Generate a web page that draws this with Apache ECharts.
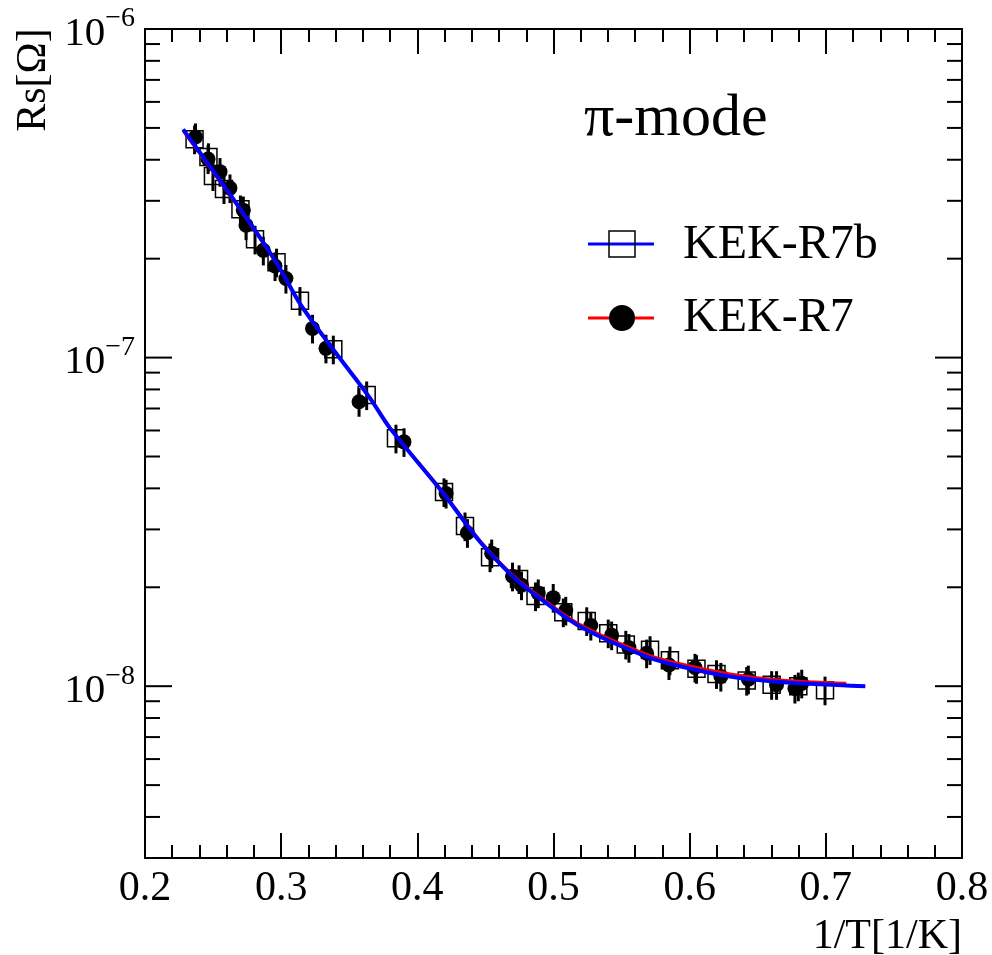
<!DOCTYPE html>
<html><head><meta charset="utf-8">
<script src="https://cdn.jsdelivr.net/npm/echarts@6/dist/echarts.min.js"></script>
<style>html,body{margin:0;padding:0;background:#fff}#c{width:992px;height:955px}</style>
</head><body><div id="c"></div>
<script>
// ---- data ----
const r7bX = [0.2364,0.2466,0.2499,0.2580,0.2701,0.2808,0.2966,0.3138,0.3383,0.3628,0.3843,0.4196,0.4350,0.4534,0.4747,0.4868,0.5072,0.5244,0.5402,0.5531,0.5709,0.5855,0.6050,0.6197,0.6419,0.6602,0.6798,0.6994];
const r7bY = [4.62e-7,4.08e-7,3.57e-7,3.26e-7,2.83e-7,2.29e-7,1.95e-7,1.49e-7,1.06e-7,7.69e-8,5.68e-8,3.90e-8,3.07e-8,2.47e-8,2.12e-8,1.88e-8,1.68e-8,1.58e-8,1.45e-8,1.34e-8,1.29e-8,1.20e-8,1.13e-8,1.09e-8,1.04e-8,1.01e-8,1.00e-8,9.72e-9];
const r7X = [0.2371,0.2463,0.2551,0.2624,0.2722,0.2742,0.2869,0.2955,0.3035,0.3230,0.3329,0.3572,0.3902,0.4211,0.4368,0.4546,0.4699,0.4765,0.4888,0.4998,0.5090,0.5274,0.5427,0.5554,0.5684,0.5848,0.6039,0.6229,0.6431,0.6638,0.6773,0.6823];
const r7Y = [4.69e-7,4.02e-7,3.68e-7,3.28e-7,2.81e-7,2.53e-7,2.12e-7,1.90e-7,1.74e-7,1.227e-7,1.067e-7,7.34e-8,5.54e-8,3.86e-8,2.93e-8,2.54e-8,2.16e-8,2.03e-8,1.92e-8,1.86e-8,1.70e-8,1.53e-8,1.43e-8,1.31e-8,1.26e-8,1.16e-8,1.14e-8,1.07e-8,1.05e-8,1.01e-8,9.84e-9,1.02e-8];
const errFrac = 0.10; // relative vertical error bar half-size

const fitBlueX = [0.2280,0.2673,0.2967,0.3138,0.3359,0.3652,0.3799,0.4191,0.4460,0.4705,0.4901,0.5195,0.5684,0.5929,0.6296,0.6663,0.7290];
const fitBlueY = [4.95e-7,2.94e-7,1.94e-7,1.46e-7,1.09e-7,7.53e-8,6.10e-8,3.86e-8,2.75e-8,2.15e-8,1.85e-8,1.52e-8,1.23e-8,1.15e-8,1.07e-8,1.03e-8,1.00e-8];
const fitRedX  = [0.2280,0.2673,0.2967,0.3138,0.3359,0.3652,0.3799,0.4191,0.4460,0.4705,0.4901,0.5195,0.5684,0.5929,0.6296,0.6663,0.7150];
const fitRedY  = [4.90e-7,2.92e-7,1.93e-7,1.46e-7,1.09e-7,7.55e-8,6.12e-8,3.88e-8,2.77e-8,2.17e-8,1.87e-8,1.54e-8,1.25e-8,1.17e-8,1.09e-8,1.045e-8,1.02e-8];

const xTickLabels = ['0.2','0.3','0.4','0.5','0.6','0.7','0.8'];
const yMajorTicks = [1e-8,1e-7,1e-6];
const yMinorTicks = [4e-9,5e-9,6e-9,7e-9,8e-9,9e-9,2e-8,3e-8,4e-8,5e-8,6e-8,7e-8,8e-8,9e-8,2e-7,3e-7,4e-7,5e-7,6e-7,7e-7,8e-7,9e-7];

// ---- chart ----
const FONT = 'Liberation Serif';
const chart = echarts.init(document.getElementById('c'), null, {renderer:'canvas'});

const pairs = (xs, ys) => xs.map((x,i)=>[x, ys[i]]);
const errData = (xs, ys) => xs.map((x,i)=>[x, ys[i]*(1-errFrac), ys[i]*(1+errFrac)]);

function errRender(params, api){
  const p1 = api.coord([api.value(0), api.value(1)]);
  const p2 = api.coord([api.value(0), api.value(2)]);
  return {type:'line', shape:{x1:p1[0],y1:p1[1],x2:p2[0],y2:p2[1]}, style:{stroke:'#000', lineWidth:3}};
}
function yTickRender(params, api){
  const v = api.value(0), len = api.value(1);
  const l = api.coord([0.2, v]), r = api.coord([0.8, v]);
  return {type:'group', children:[
    {type:'line', shape:{x1:l[0], y1:l[1], x2:l[0]+len, y2:l[1]}, style:{stroke:'#000', lineWidth:2}},
    {type:'line', shape:{x1:r[0], y1:r[1], x2:r[0]-len, y2:r[1]}, style:{stroke:'#000', lineWidth:2}}
  ]};
}

const xAxisBase = {
  type:'value', min:0.2, max:0.8, interval:0.1,
  axisLine:{show:false},
  axisTick:{show:true, inside:true, length:25, lineStyle:{color:'#000', width:2}},
  minorTick:{show:true, splitNumber:5, length:13, lineStyle:{color:'#000', width:2}},
  splitLine:{show:false}
};

chart.setOption({
  animation:false,
  backgroundColor:'#fff',
  grid:{left:145, right:30, top:29, bottom:97, show:true, borderColor:'#000', borderWidth:2, backgroundColor:'transparent'},
  xAxis:[
    Object.assign({}, xAxisBase, {position:'bottom',
      axisLabel:{show:true, margin:10, color:'#000', fontFamily:FONT, fontSize:42,
        formatter:(v)=>{ const i = Math.round((v-0.2)/0.1); return xTickLabels[i] || ''; }}}),
    Object.assign({}, xAxisBase, {position:'top', axisLabel:{show:false}})
  ],
  yAxis:[{
    type:'log', logBase:10, min:3e-9, max:1e-6,
    axisLine:{show:false}, axisTick:{show:false}, splitLine:{show:false}, minorTick:{show:false},
    axisLabel:{show:true, margin:10, color:'#000', fontFamily:FONT,
      formatter:(v)=>{
        const l = Math.log10(v); const r = Math.round(l);
        if (Math.abs(l-r) > 1e-6) return '';
        return '{a|10}{b|\u2212' + (-r) + '}';
      },
      rich:{
        a:{fontFamily:FONT, fontSize:41, color:'#000', padding:[10,0,0,0]},
        b:{fontFamily:FONT, fontSize:28, color:'#000', padding:[0,0,20,0]}
      }
    }
  }],
  series:[
    {type:'custom', name:'yticks', renderItem:yTickRender, silent:true, z:1,
      data: yMajorTicks.map(v=>[v,27]).concat(yMinorTicks.map(v=>[v,15])),
      encode:{y:0}},
    {type:'custom', name:'errR7b', renderItem:errRender, data:errData(r7bX, r7bY), encode:{x:0, y:[1,2]}, z:2, silent:true},
    {type:'custom', name:'errR7', renderItem:errRender, data:errData(r7X, r7Y), encode:{x:0, y:[1,2]}, z:2, silent:true},
    {type:'scatter', name:'KEK-R7b', data:pairs(r7bX, r7bY), symbol:'rect', symbolSize:17, z:3,
      itemStyle:{color:'rgba(0,0,0,0)', borderColor:'#000', borderWidth:1.5, opacity:1}},
    {type:'scatter', name:'KEK-R7', data:pairs(r7X, r7Y), symbol:'circle', symbolSize:15, z:3,
      itemStyle:{color:'#000', opacity:1}},
    {type:'line', name:'fitR7', data:pairs(fitRedX, fitRedY), showSymbol:false, smooth:0.3, z:4,
      lineStyle:{color:'#ff0000', width:3}},
    {type:'line', name:'fitR7b', data:pairs(fitBlueX, fitBlueY), showSymbol:false, smooth:0.3, z:5,
      lineStyle:{color:'#0000ff', width:4}}
  ],
  graphic:[
    {type:'text', x:34, y:80, rotation:Math.PI/2,
      style:{text:'Rs[\u03A9]', fontFamily:FONT, fontSize:42, fill:'#000', align:'center', verticalAlign:'middle'}},
    {type:'text', x:962, y:937,
      style:{text:'1/T[1/K]', fontFamily:FONT, fontSize:42, fill:'#000', align:'right', verticalAlign:'middle'}},
    {type:'text', x:584, y:119,
      style:{text:'\u03C0-mode', fontFamily:FONT, fontSize:60, fill:'#000', align:'left', verticalAlign:'middle'}},
    {type:'line', shape:{x1:588, y1:244, x2:654, y2:244}, style:{stroke:'#0000ff', lineWidth:3}},
    {type:'rect', shape:{x:609, y:231, width:26, height:26}, style:{fill:'none', stroke:'#000', lineWidth:1.5}},
    {type:'text', x:683, y:245,
      style:{text:'KEK-R7b', fontFamily:FONT, fontSize:48, fill:'#000', align:'left', verticalAlign:'middle'}},
    {type:'line', shape:{x1:588, y1:318, x2:654, y2:318}, style:{stroke:'#ff0000', lineWidth:3}},
    {type:'circle', shape:{cx:622, cy:318, r:13}, style:{fill:'#000'}},
    {type:'text', x:683, y:318,
      style:{text:'KEK-R7', fontFamily:FONT, fontSize:48, fill:'#000', align:'left', verticalAlign:'middle'}}
  ]
});
</script>
</body></html>
